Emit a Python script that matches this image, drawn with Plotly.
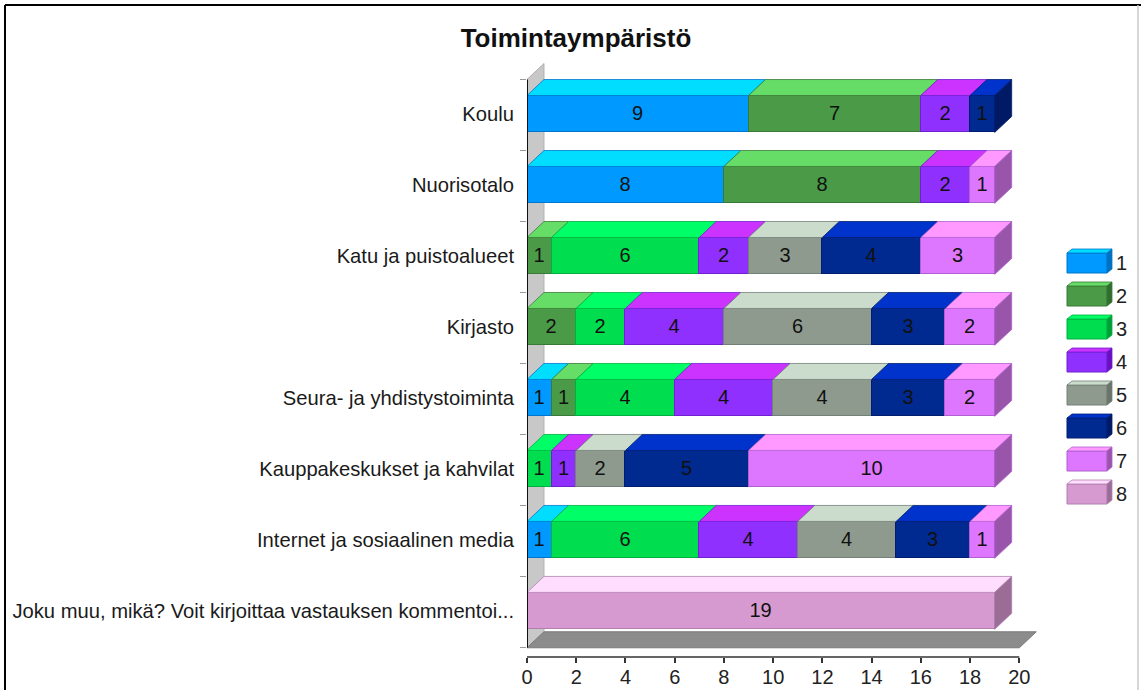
import plotly.graph_objects as go

# ---------------- data ----------------
categories = [
    "Koulu",
    "Nuorisotalo",
    "Katu ja puistoalueet",
    "Kirjasto",
    "Seura- ja yhdistystoiminta",
    "Kauppakeskukset ja kahvilat",
    "Internet ja sosiaalinen media",
    "Joku muu, mikä? Voit kirjoittaa vastauksen kommentoi...",
]
series_names = ["1", "2", "3", "4", "5", "6", "7", "8"]
s1 = [9, 8, 0, 0, 1, 0, 1, 0]
s2 = [7, 8, 1, 2, 1, 0, 0, 0]
s3 = [0, 0, 6, 2, 4, 1, 6, 0]
s4 = [2, 2, 2, 4, 4, 1, 4, 0]
s5 = [0, 0, 3, 6, 4, 2, 4, 0]
s6 = [1, 0, 4, 3, 3, 5, 3, 0]
s7 = [0, 1, 3, 2, 2, 10, 1, 0]
s8 = [0, 0, 0, 0, 0, 0, 0, 19]
series = [s1, s2, s3, s4, s5, s6, s7, s8]
x_ticks = list(range(0, 21, 2))

# ---------------- styles ----------------
front = ["#0099FF", "#4A9A48", "#00DD4E", "#9030FF", "#8E9A8E", "#002A90", "#DD77FF", "#D699D0"]
top = ["#00DDFF", "#66DD66", "#00FF66", "#CC33FF", "#CCDCCC", "#0033CC", "#FF99FF", "#FFDDFF"]
side = ["#0070C0", "#2F6E2E", "#00A038", "#6A10C0", "#6A746A", "#001A66", "#9955AA", "#9A6C96"]
edge = ["#0077CC", "#3A7A38", "#00B040", "#7020D0", "#72807A", "#001E70", "#B060D0", "#B080B0"]

FONT = "Liberation Sans, Arial, sans-serif"
W, H = 1141, 690
ML, MR, MT, MB = 527, 102, 60, 33
XMAX = 20.8
YRANGE = [7.65, -0.76]
BW = 0.52          # bar (front face) thickness in category units
HALF = BW / 2
DX = 0.69          # 3D depth offset in x units
DY = 0.225         # 3D depth offset in category units

pos = list(range(len(categories)))

fig = go.Figure()
shapes = []

# back wall and floor
floor_front = len(categories) - 0.48
shapes.append(dict(type="path", xref="x", yref="y", layer="below",
                   path=f"M 0,{-HALF-DY} L {DX},{-HALF-2*DY} L {DX},{floor_front-DY} L 0,{floor_front} Z",
                   fillcolor="#C8C8C8", line=dict(color="#B0B0B0", width=1)))
shapes.append(dict(type="path", xref="x", yref="y", layer="below",
                   path=f"M 0,{floor_front} L {x_ticks[-1]},{floor_front} L {x_ticks[-1]+DX},{floor_front-DY} L {DX},{floor_front-DY} Z",
                   fillcolor="#8C8C8C", line=dict(color="#7A7A7A", width=1)))

# front faces (bars)
for i, (name, vals) in enumerate(zip(series_names, series)):
    fig.add_trace(go.Bar(
        y=pos, x=[v if v else None for v in vals], orientation="h", width=BW,
        name=name, showlegend=False, hoverinfo="skip",
        marker=dict(color=front[i], line=dict(color=edge[i], width=1)),
        text=[str(v) if v else "" for v in vals],
        textposition="inside", insidetextanchor="middle", textangle=0,
        textfont=dict(family=FONT, size=20, color="#111111"),
        constraintext="none",
    ))

# top faces and end side faces
for r in pos:
    base = 0
    yt = r - HALF
    yb = r + HALF
    last = None
    for i, vals in enumerate(series):
        v = vals[r]
        if not v:
            continue
        x0, x1 = base, base + v
        shapes.append(dict(type="path", xref="x", yref="y",
                           path=f"M {x0},{yt} L {x1},{yt} L {x1+DX},{yt-DY} L {x0+DX},{yt-DY} Z",
                           fillcolor=top[i], line=dict(color=edge[i], width=0.8)))
        base = x1
        last = i
    if last is not None:
        shapes.append(dict(type="path", xref="x", yref="y",
                           path=f"M {base},{yt} L {base+DX},{yt-DY} L {base+DX},{yb-DY} L {base},{yb} Z",
                           fillcolor=side[last], line=dict(color=edge[last], width=0.8)))

# axis lines
shapes.append(dict(type="line", xref="x", yref="y", x0=0, x1=0, y0=-HALF - DY, y1=floor_front,
                   line=dict(color="#111111", width=2)))
shapes.append(dict(type="line", xref="x", yref="paper", x0=0, x1=x_ticks[-1], y0=0, y1=0,
                   line=dict(color="#333333", width=1.5)))

# custom 3D legend (paper coords)
plot_w = W - ML - MR
plot_h = H - MT - MB
def px_x(px):
    return (px - ML) / plot_w
def px_y(py):
    return (H - MB - py) / plot_h

annotations = []
LX0, LBW, LBH, LD, LSTEP, LTOP = 1067, 40, 20, 5, 33, 253
for i, name in enumerate(series_names):
    t = LTOP + LSTEP * i
    xa, xb = px_x(LX0), px_x(LX0 + LBW)
    xc, xd = px_x(LX0 + LD), px_x(LX0 + LBW + LD)
    ya, yb_ = px_y(t), px_y(t + LBH)
    yc, yd = px_y(t - 4), px_y(t + LBH - 4)
    shapes.append(dict(type="rect", xref="paper", yref="paper", x0=xa, x1=xb, y0=yb_, y1=ya,
                       fillcolor=front[i], line=dict(color=edge[i], width=1)))
    shapes.append(dict(type="path", xref="paper", yref="paper",
                       path=f"M {xa},{ya} L {xb},{ya} L {xd},{yc} L {xc},{yc} Z",
                       fillcolor=top[i], line=dict(color=edge[i], width=0.8)))
    shapes.append(dict(type="path", xref="paper", yref="paper",
                       path=f"M {xb},{ya} L {xd},{yc} L {xd},{yd} L {xb},{yb_} Z",
                       fillcolor=side[i], line=dict(color=edge[i], width=0.8)))
    annotations.append(dict(xref="paper", yref="paper", x=px_x(LX0 + LBW + LD + 2), y=px_y(t + LBH / 2),
                            text=name, showarrow=False, xanchor="left", yanchor="middle",
                            font=dict(family=FONT, size=20, color="#222222")))

# frame around the picture
shapes.append(dict(type="line", xref="paper", yref="paper", x0=px_x(5), x1=px_x(W), y0=px_y(5), y1=px_y(5),
                   line=dict(color="#000000", width=2)))
shapes.append(dict(type="line", xref="paper", yref="paper", x0=px_x(5), x1=px_x(5), y0=px_y(5), y1=px_y(H + 5),
                   line=dict(color="#000000", width=2)))
shapes.append(dict(type="line", xref="paper", yref="paper", x0=px_x(1138), x1=px_x(1138), y0=px_y(5), y1=px_y(H + 5),
                   line=dict(color="#C8C8C8", width=1.5)))

fig.update_layout(
    width=W, height=H,
    margin=dict(l=ML, r=MR, t=MT, b=MB, pad=0, autoexpand=False),
    paper_bgcolor="white", plot_bgcolor="white",
    barmode="stack", bargap=0,
    showlegend=False,
    uniformtext=dict(mode="show", minsize=20),
    title=dict(text="<b>Toimintaympäristö</b>", x=576 / W, xref="container", xanchor="center",
               y=1 - 38 / H, yref="container", yanchor="middle",
               font=dict(family=FONT, size=26, color="#111111")),
    xaxis=dict(range=[0, XMAX], tickvals=x_ticks, ticks="outside", ticklen=5, tickwidth=1.5,
               tickcolor="#333333", showgrid=False, zeroline=False, showline=False,
               ticklabelstandoff=-3, automargin=False,
               tickfont=dict(family=FONT, size=20, color="#222222"), fixedrange=True),
    yaxis=dict(range=YRANGE, tickvals=pos, ticktext=categories, ticks="", showgrid=False,
               zeroline=False, showline=False, ticklabelstandoff=12, automargin=False,
               tickfont=dict(family=FONT, size=20.2, color="#1a1a1a"),
               minor=dict(tickvals=[k - 0.48 for k in range(len(categories) + 1)], ticks="outside",
                          ticklen=6, tickcolor="#999999", tickwidth=1, showgrid=False),
               fixedrange=True),
    shapes=shapes,
    annotations=annotations,
)

fig.write_html("out.html", config={"displayModeBar": False},
               post_script="document.body.style.margin='0';document.body.style.overflow='hidden';")
